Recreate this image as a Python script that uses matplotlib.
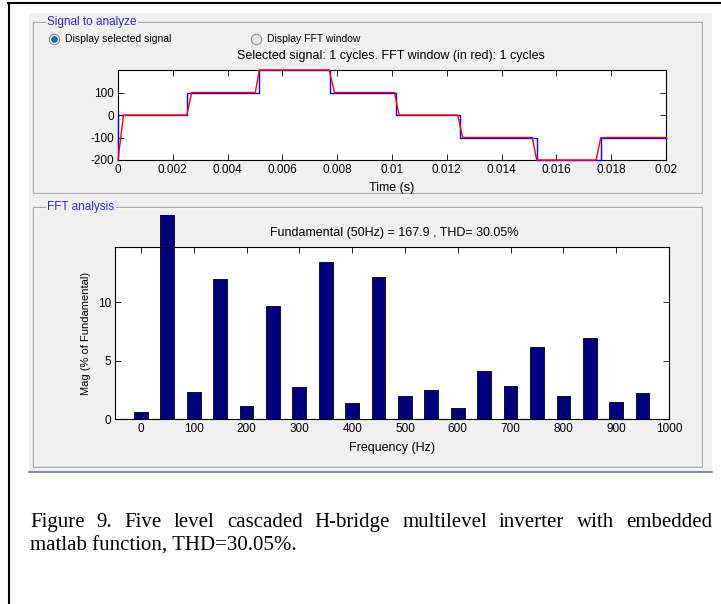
import numpy as np
import matplotlib
matplotlib.use("Agg")
import matplotlib.pyplot as plt
from matplotlib.patches import Rectangle
from matplotlib.lines import Line2D
from matplotlib.transforms import Bbox, TransformedBbox

plt.rcParams["axes.unicode_minus"] = False

# ---- data ----
# ideal staircase (blue): switching instants and levels
step_times = [0.0, 0.00251, 0.00516, 0.00774, 0.01013, 0.01248, 0.01528, 0.01762]
step_levels = [0, 100, 200, 100, 0, -100, -200, -100]
t_end = 0.02
start_level = -200

# sampled signal (red)
red_t = [0, 0.0002, 0.00251, 0.00269, 0.00501, 0.00516, 0.00771, 0.0079, 0.01009,
         0.01026, 0.0124, 0.01258, 0.01512, 0.01528, 0.01745, 0.01762, 0.02]
red_v = [-200, 0, 0, 100, 100, 200, 200, 100, 100, 0, 0, -100, -100, -200, -200,
         -100, -100]

# FFT harmonics, % of fundamental
freqs = [0, 50, 100, 150, 200, 250, 300, 350, 400, 450, 500, 550, 600, 650, 700,
         750, 800, 850, 900, 950]
mags = [0.57, 100, 2.35, 11.98, 1.09, 9.71, 2.72, 13.47, 1.40, 12.18, 1.98, 2.46,
        0.92, 4.10, 2.87, 6.19, 1.98, 6.93, 1.46, 2.23]

time_ticks = [0, 0.002, 0.004, 0.006, 0.008, 0.01, 0.012, 0.014, 0.016, 0.018, 0.02]
time_labels = ["0", "0.002", "0.004", "0.006", "0.008", "0.01", "0.012", "0.014",
               "0.016", "0.018", "0.02"]
sig_ticks = [-200, -100, 0, 100]
freq_ticks = [0, 100, 200, 300, 400, 500, 600, 700, 800, 900, 1000]
mag_ticks = [0, 5, 10]

title1 = "Selected signal: 1 cycles. FFT window (in red): 1 cycles"
title2 = "Fundamental (50Hz) = 167.9 , THD= 30.05%"
caption1 = "Figure 9. Five level cascaded H-bridge multilevel inverter with embedded"
caption2 = "matlab function, THD=30.05%."

W, H = 721, 604
GRAY = "#f0f0f0"
NARROW = ["Liberation Sans Narrow", "Liberation Sans", "DejaVu Sans"]
SANS = ["Liberation Sans", "DejaVu Sans"]
SERIF = ["Liberation Serif", "DejaVu Serif"]


def fx(x):
    return x / W


def fy(y):
    return 1 - y / H


def rect(x0, y0, x1, y1):
    return [fx(x0), fy(y1), (x1 - x0) / W, (y1 - y0) / H]


fig = plt.figure(figsize=(W / 100, H / 100), dpi=100)
fig.patch.set_facecolor("white")

# page border and GUI background (behind the axes)
fig.add_artist(Line2D([fx(8), fx(721)], [fy(3), fy(3)], color="black", lw=1.5, zorder=-5))
fig.add_artist(Line2D([fx(9), fx(9)], [fy(3), fy(604)], color="black", lw=1.5, zorder=-5))
fig.add_artist(Rectangle((fx(29), fy(472)), (712 - 29) / W, (472 - 13) / H,
                         transform=fig.transFigure, facecolor=GRAY, edgecolor="none",
                         zorder=-10))
fig.add_artist(Line2D([fx(29), fx(712)], [fy(471.5), fy(471.5)], color="#6f7c8e", lw=1.2,
                      zorder=-5))


def panel(x0, y0, x1, y1, title):
    for off, col in [(1, "white"), (0, "#a9a9a9")]:
        fig.add_artist(Rectangle((fx(x0 + off), fy(y1 + off)), (x1 - x0) / W, (y1 - y0) / H,
                                 transform=fig.transFigure, facecolor="none",
                                 edgecolor=col, lw=0.9, zorder=-5))
    fig.text(fx(x0 + 14), fy(y0), title, family=SANS, fontsize=8.5, color="#2b2bc4",
             ha="left", va="center",
             bbox=dict(facecolor=GRAY, edgecolor="none", pad=1.0))


panel(33, 22, 702, 193, "Signal to analyze")
panel(33, 207, 702, 467, "FFT analysis")

# radio buttons
for cx, label, on in [(54, "Display selected signal", True), (256, "Display FFT window", False)]:
    fig.add_artist(Line2D([fx(cx)], [fy(39)], marker="o", markersize=7.5,
                          markerfacecolor="#e6e6e6", markeredgecolor="#8a8a8a",
                          markeredgewidth=0.8, transform=fig.transFigure))
    if on:
        fig.add_artist(Line2D([fx(cx)], [fy(39)], marker="o", markersize=4,
                              markerfacecolor="#1f6fb5", markeredgecolor="#0b3d6e",
                              markeredgewidth=0.5, transform=fig.transFigure))
    fig.text(fx(cx + 11), fy(39), label, family=SANS, fontsize=7.5, ha="left", va="center")

# ---- signal axes ----
ax1 = fig.add_axes(rect(118, 70, 666, 160))
ends = step_times[1:] + [t_end]
blue_t = [0.0]
blue_v = [start_level]
for s, e, lv in zip(step_times, ends, step_levels):
    blue_t += [s, e]
    blue_v += [lv, lv]
ax1.plot(blue_t, blue_v, color="blue", lw=1.0, clip_on=False, zorder=3)
ax1.plot(red_t, red_v, color="red", lw=1.0, clip_on=False, zorder=3)
ax1.set_xlim(0, 0.02)
ax1.set_ylim(-200, 200)
ax1.set_xticks(time_ticks)
ax1.set_xticklabels(time_labels)
ax1.set_yticks(sig_ticks)
ax1.set_xlabel("Time (s)", family=NARROW, fontsize=9, labelpad=4)
fig.text(fx(391), fy(56), title1, family=NARROW, fontsize=9, ha="center", va="center")

# ---- FFT axes ----
ax2 = fig.add_axes(rect(115, 247, 669, 419))
bars = ax2.bar(freqs, mags, width=26, color="#00007f", edgecolor="black", lw=0.6)
clip = TransformedBbox(Bbox.from_extents(fx(115), fy(419), fx(669), fy(215)), fig.transFigure)
for b in bars:
    b.set_clip_box(clip)
ax2.set_xlim(-49, 1000)
ax2.set_ylim(0, 14.76)
ax2.set_xticks(freq_ticks)
ax2.set_yticks(mag_ticks)
ax2.set_xlabel("Frequency (Hz)", family=NARROW, fontsize=9, labelpad=5)
ax2.set_ylabel("Mag (% of Fundamental)", family=SANS, fontsize=8, labelpad=5)
fig.text(fx(394), fy(233), title2, family=NARROW, fontsize=9, ha="center", va="center")

for ax in (ax1, ax2):
    ax.set_facecolor("white")
    ax.tick_params(direction="in", length=4, width=0.6, top=True, right=True,
                   labelsize=8.5, pad=3)
    for lab in ax.get_xticklabels() + ax.get_yticklabels():
        lab.set_family(NARROW)
    for s in ax.spines.values():
        s.set_linewidth(0.8)

# ---- caption, justified first line ----
fig.canvas.draw()
renderer = fig.canvas.get_renderer()
words = caption1.split(" ")
widths = []
for w in words:
    t = fig.text(0, 0, w, family=SERIF, fontsize=15)
    widths.append(t.get_window_extent(renderer).width)
    t.remove()
x_left, x_right = 30, 712
gap = (x_right - x_left - sum(widths)) / (len(words) - 1)
x = x_left
for w, wd in zip(words, widths):
    fig.text(fx(x), fy(527), w, family=SERIF, fontsize=15, ha="left", va="baseline")
    x += wd + gap
fig.text(fx(30), fy(551), caption2, family=SERIF, fontsize=15, ha="left", va="baseline")

fig.savefig("out.png", dpi=100, facecolor="white")
